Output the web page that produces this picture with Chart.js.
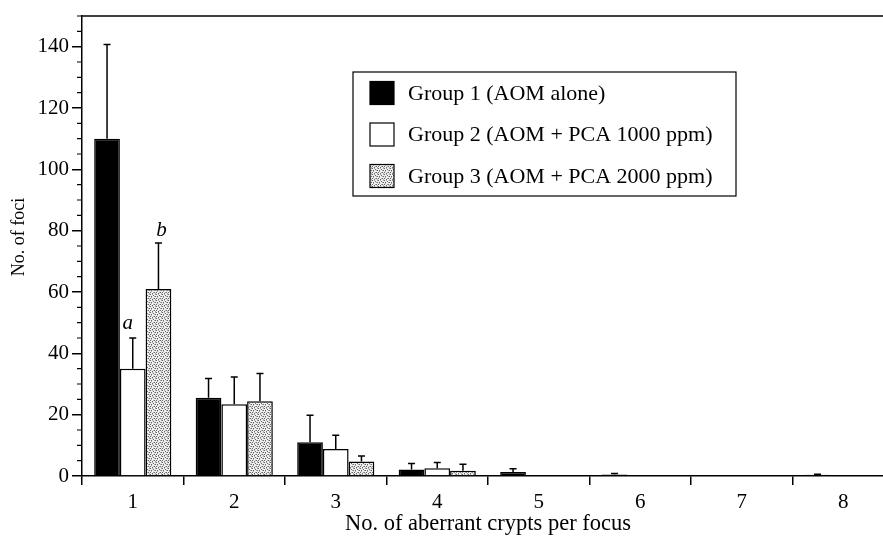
<!DOCTYPE html>
<html>
<head>
<meta charset="utf-8">
<script src="https://cdn.jsdelivr.net/npm/chart.js@4"></script>
<style>
  html, body { margin: 0; padding: 0; background: #fff; overflow: hidden; }
  #wrap { width: 896px; height: 538px; }
</style>
</head>
<body>
<div id="wrap"><canvas id="chart"></canvas></div>
<script>
// =============== DATA ===============

const categories = ["1", "2", "3", "4", "5", "6", "7", "8"];
const seriesNames = [
  "Group 1 (AOM alone)",
  "Group 2 (AOM + PCA 1000 ppm)",
  "Group 3 (AOM + PCA 2000 ppm)",
];

// mean number of foci
const group1 = [110, 25.5, 11, 2.1, 1.3, 0.5, 0, 0.4];
const group2 = [35, 23.4, 8.8, 2.5, 0, 0, 0, 0];
const group3 = [61, 24.4, 4.7, 1.7, 0, 0, 0, 0];

// standard deviation (upper error bar)
const group1Sd = [30.7, 6.3, 8.8, 2.0, 1.1, 0.3, 0, 0.2];
const group2Sd = [10, 8.9, 4.5, 1.9, 0, 0, 0, 0];
const group3Sd = [15, 9, 1.8, 2.1, 0, 0, 0, 0];

const yTickStep = 20;
const yMinorStep = 5;
const yMax = 150;

// significance letters: [series index, category index, text]
const letters = [
  [1, 0, "a"],
  [2, 0, "b"],
];


// =============== STYLE ===============

const FONT = "'Liberation Serif', 'Times New Roman', serif";
const letterOffsets = { a: [-5, -15], b: [3, -12] };

function makeStipple() {
  const c = document.createElement("canvas");
  c.width = 6;
  c.height = 6;
  const g = c.getContext("2d");
  g.fillStyle = "#eeeeee";
  g.fillRect(0, 0, 6, 6);
  g.fillStyle = "#666";
  [[0, 0], [3, 1], [1, 2], [5, 2], [4, 4], [2, 5], [0, 4]].forEach(([x, y]) => {
    g.fillRect(x, y, 1, 1);
  });
  g.fillStyle = "#aaa";
  [[2, 0], [5, 0], [4, 2], [1, 3], [3, 4], [5, 5]].forEach(([x, y]) => {
    g.fillRect(x, y, 1, 1);
  });
  return g.createPattern(c, "repeat");
}


// =============== PLUGINS ===============

const errorBars = {
  id: "errorBars",
  afterDatasetsDraw(chart) {
    const ctx = chart.ctx;
    const y = chart.scales.y;
    ctx.save();
    ctx.strokeStyle = "#000";
    ctx.lineWidth = 1.5;
    chart.data.datasets.forEach((ds, i) => {
      chart.getDatasetMeta(i).data.forEach((bar, j) => {
        const sd = ds.errors[j];
        if (!sd) return;
        const top = y.getPixelForValue(ds.data[j] + sd);
        ctx.beginPath();
        ctx.moveTo(bar.x, bar.y);
        ctx.lineTo(bar.x, top);
        ctx.moveTo(bar.x - 3.5, top);
        ctx.lineTo(bar.x + 3.5, top);
        ctx.stroke();
      });
    });

    // letters above error bars
    ctx.fillStyle = "#000";
    ctx.font = "italic 21px " + FONT;
    ctx.textAlign = "center";
    ctx.textBaseline = "middle";
    letters.forEach(([s, idx, text]) => {
      const ds = chart.data.datasets[s];
      const bar = chart.getDatasetMeta(s).data[idx];
      const top = y.getPixelForValue(ds.data[idx] + ds.errors[idx]);
      const off = letterOffsets[text] || [0, -12];
      ctx.fillText(text, bar.x + off[0], top + off[1]);
    });
    ctx.restore();
  },
};

const frame = {
  id: "frame",
  afterDraw(chart) {
    const { ctx, chartArea } = chart;
    const y = chart.scales.y;
    ctx.save();
    ctx.strokeStyle = "#000";
    ctx.lineWidth = 1.5;

    // top line
    ctx.beginPath();
    ctx.moveTo(chartArea.left, chartArea.top);
    ctx.lineTo(chartArea.right, chartArea.top);
    ctx.stroke();

    // minor ticks on y axis
    ctx.lineWidth = 1.2;
    ctx.beginPath();
    for (let v = yMinorStep; v <= yMax; v += yMinorStep) {
      if (v % yTickStep === 0) continue;
      const py = y.getPixelForValue(v);
      ctx.moveTo(chartArea.left - 5, py);
      ctx.lineTo(chartArea.left, py);
    }
    ctx.stroke();
    ctx.restore();
  },
};

const boxLegend = {
  id: "boxLegend",
  afterDraw(chart) {
    const { ctx, chartArea } = chart;
    const left = chartArea.left + 271;
    const top = chartArea.top + 56;
    const w = 383;
    const h = 124;
    ctx.save();
    ctx.fillStyle = "#fff";
    ctx.fillRect(left, top, w, h);
    ctx.strokeStyle = "#000";
    ctx.lineWidth = 1.2;
    ctx.strokeRect(left, top, w, h);
    ctx.font = "22px " + FONT;
    ctx.textBaseline = "middle";
    ctx.textAlign = "left";
    chart.data.datasets.forEach((ds, i) => {
      const cy = top + 21 + i * 41.5;
      ctx.fillStyle = ds.backgroundColor;
      ctx.fillRect(left + 17, cy - 11.5, 24, 23);
      ctx.strokeRect(left + 17, cy - 11.5, 24, 23);
      ctx.fillStyle = "#000";
      ctx.fillText(ds.label, left + 55, cy + 1);
    });
    ctx.restore();
  },
};


// =============== CHART ===============

function buildChart() {
  const ctx = document.getElementById("chart");
  const stipple = makeStipple();
  const fills = ["#000", "#fff", stipple];
  const values = [group1, group2, group3];
  const errors = [group1Sd, group2Sd, group3Sd];

  const datasets = seriesNames.map((name, i) => ({
    label: name,
    data: values[i],
    errors: errors[i],
    backgroundColor: fills[i],
    borderColor: "#000",
    borderWidth: 1.5,
    barPercentage: 1,
    categoryPercentage: 0.76,
  }));

  new Chart(ctx, {
    type: "bar",
    data: { labels: categories, datasets },
    options: {
      responsive: true,
      maintainAspectRatio: false,
      animation: false,
      layout: { padding: { top: 16, right: 2, left: 0, bottom: 0 } },
      plugins: {
        legend: { display: false },
        tooltip: { enabled: false },
      },
      scales: {
        x: {
          z: 1,
          afterFit(s) { s.height = 62; },
          border: { color: "#000", width: 1.5 },
          grid: {
            drawOnChartArea: false,
            offset: true,
            tickLength: 9,
            color: "#000",
            lineWidth: 1.5,
          },
          ticks: { padding: 5, color: "#000", font: { family: FONT, size: 21 } },
          title: {
            display: true,
            text: "No. of aberrant crypts per focus",
            color: "#000",
            font: { family: FONT, size: 22.5 },
            padding: { top: 0, bottom: 0 },
          },
        },
        y: {
          min: 0,
          max: yMax,
          afterFit(s) { s.width = 82; },
          border: { color: "#000", width: 1.5 },
          grid: {
            drawOnChartArea: false,
            tickLength: 10,
            color: "#000",
            lineWidth: 1.5,
          },
          ticks: {
            stepSize: yTickStep,
            includeBounds: false,
            padding: 3,
            color: "#000",
            font: { family: FONT, size: 21 },
          },
          title: {
            display: true,
            text: "\u00a0\u00a0\u00a0\u00a0No. of foci",
            color: "#000",
            font: { family: FONT, size: 18 },
            padding: { top: 8, bottom: 0 },
          },
        },
      },
    },
    plugins: [errorBars, frame, boxLegend],
  });
}

document.addEventListener("DOMContentLoaded", buildChart);
</script>
</body>
</html>
